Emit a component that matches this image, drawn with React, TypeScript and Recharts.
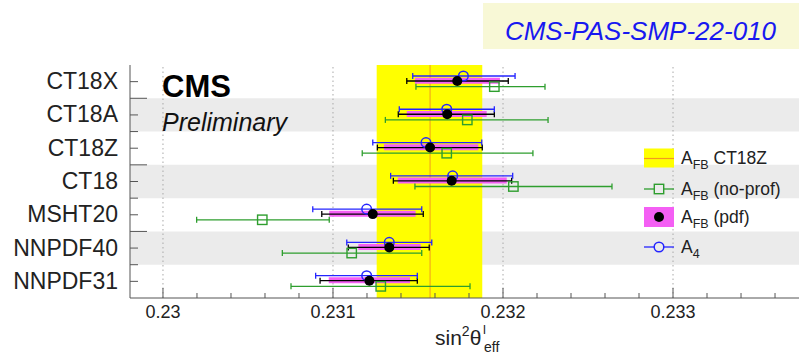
import React from "react";
import {
  ErrorBar,
  Legend,
  ReferenceArea,
  ReferenceLine,
  Scatter,
  ScatterChart,
  XAxis,
  YAxis,
} from "recharts";

const FONT = "'Liberation Sans', Arial, Helvetica, sans-serif";
const FRAME = "#555";
const GREEN = "#2e9e2e";
const BLUE = "#2424ff";
const PINK = "#f45ff4";
const YELLOW = "#ffff00";
const ORANGE = "#f29a1f";

const pdfSets = ["CT18X", "CT18A", "CT18Z", "CT18", "MSHT20", "NNPDF40", "NNPDF31"];

// A4 (open blue circles)
const a4Value = [0.231767, 0.231669, 0.231547, 0.231704, 0.231198, 0.231331, 0.231198];
const a4Low = [0.231469, 0.23139, 0.231234, 0.231339, 0.230881, 0.231081, 0.230898];
const a4High = [0.232071, 0.231949, 0.231875, 0.232057, 0.231522, 0.231581, 0.231496];

// AFB (pdf): black dots, total error bar and magenta pdf band
const afbValue = [0.231731, 0.231672, 0.231571, 0.231698, 0.231234, 0.231331, 0.231214];
const afbLow = [0.231434, 0.231384, 0.231261, 0.231355, 0.230934, 0.23109, 0.230924];
const afbHigh = [0.232031, 0.231949, 0.231878, 0.232051, 0.231531, 0.231566, 0.231496];
const afbPdfLow = [0.231482, 0.231434, 0.2313, 0.231381, 0.230978, 0.231149, 0.230975];
const afbPdfHigh = [0.231982, 0.231904, 0.231855, 0.232022, 0.231486, 0.231516, 0.231453];

// AFB (no-prof): open green squares
const noProfValue = [0.231949, 0.23179, 0.231669, 0.232061, 0.230584, 0.23111, 0.231281];
const noProfLow = [0.231488, 0.231308, 0.231172, 0.231482, 0.230198, 0.230702, 0.230753];
const noProfHigh = [0.232247, 0.232265, 0.232176, 0.232641, 0.230978, 0.231522, 0.231806];

// AFB CT18Z reference band
const ct18zBand = [0.231257, 0.231878];
const ct18zCentral = 0.231571;

const xDomain = [0.229806, 0.233794];
const xTicks = [
  0.23, 0.2302, 0.2304, 0.2306, 0.2308, 0.231, 0.2312, 0.2314, 0.2316, 0.2318,
  0.232, 0.2322, 0.2324, 0.2326, 0.2328, 0.233, 0.2332, 0.2334, 0.2336,
];
const xGrid = [0.23, 0.231, 0.232, 0.233];
const yTicks = [0.5, 1, 1.5, 2, 2.5, 3, 3.5, 4, 4.5, 5, 5.5, 6, 6.5];
const yMajor = [1, 3, 5];
const shadedRows = [1, 3, 5];

const toPoints = (val: number[], lo: number[], hi: number[], shift: number) =>
  val.map((v, i) => ({ x: v, y: i + 0.5 + shift, err: [v - lo[i], hi[i] - v] }));

const a4Data = toPoints(a4Value, a4Low, a4High, -0.17);
const afbData = toPoints(afbValue, afbLow, afbHigh, -0.02);
const pdfBandData = toPoints(afbValue, afbPdfLow, afbPdfHigh, -0.03);
const noProfData = toPoints(noProfValue, noProfLow, noProfHigh, 0.15);

const isMajorX = (v: number) => Math.abs(v * 1000 - Math.round(v * 1000)) < 1e-6;
const fmtX = (v: number) => String(Number(v.toFixed(3)));

function BottomTick(props: any) {
  const { x, y, payload } = props;
  const major = isMajorX(payload.value);
  return (
    <g>
      <line x1={x} x2={x} y1={y} y2={y - (major ? 10 : 5)} stroke={FRAME} />
      {major && (
        <text x={x} y={y + 20} textAnchor="middle" fontSize={18} fill="#222" fontFamily={FONT}>
          {fmtX(payload.value)}
        </text>
      )}
    </g>
  );
}

function TopTick(props: any) {
  const { x, y, payload } = props;
  const major = isMajorX(payload.value);
  return <line x1={x} x2={x} y1={y} y2={y + (major ? 10 : 5)} stroke={FRAME} />;
}

function LeftTick(props: any) {
  const { x, y, payload } = props;
  const v = payload.value;
  const center = Math.abs(v - Math.floor(v) - 0.5) < 1e-6;
  const len = yMajor.includes(v) ? 17 : 8;
  return (
    <g>
      <line x1={x} x2={x + len} y1={y} y2={y} stroke={FRAME} />
      {center && (
        <text x={x - 12} y={y + 7.5} textAnchor="end" fontSize={23} fill="#222" fontFamily={FONT}>
          {pdfSets[Math.floor(v)]}
        </text>
      )}
    </g>
  );
}

function RightTick(props: any) {
  const { x, y, payload } = props;
  const len = yMajor.includes(payload.value) ? 17 : 8;
  return <line x1={x} x2={x - len} y1={y} y2={y} stroke={FRAME} />;
}

const OpenCircle = (p: any) => (
  <circle cx={p.cx} cy={p.cy} r={4.8} fill="none" stroke={BLUE} strokeWidth={1.5} />
);
const FullDot = (p: any) => <circle cx={p.cx} cy={p.cy} r={5} fill="#000" />;
const OpenSquare = (p: any) => (
  <rect x={p.cx - 4.7} y={p.cy - 4.7} width={9.4} height={9.4} fill="none" stroke={GREEN} strokeWidth={1.4} />
);
const NoMarker = () => <g />;

function Afb({ y, rest }: { y: number; rest: string }) {
  return (
    <text x={45} y={y + 6} fontSize={17.5} fill="#222" fontFamily={FONT}>
      A
      <tspan dy={4.5} fontSize={12.5}>
        {rest === "4" ? "4" : "FB"}
      </tspan>
      {rest !== "4" && <tspan dy={-4.5}>{" " + rest}</tspan>}
    </text>
  );
}

function LegendBox() {
  return (
    <svg width={170} height={122} style={{ overflow: "visible" }}>
      <rect x={8} y={8.5} width={30} height={19} fill={YELLOW} />
      <line x1={8} x2={38} y1={18.5} y2={18.5} stroke={ORANGE} strokeWidth={1.2} />
      <Afb y={18} rest="CT18Z" />

      <line x1={8} x2={18.3} y1={49} y2={49} stroke={GREEN} strokeWidth={1.3} />
      <line x1={27.7} x2={38} y1={49} y2={49} stroke={GREEN} strokeWidth={1.3} />
      <rect x={18.3} y={44.3} width={9.4} height={9.4} fill="none" stroke={GREEN} strokeWidth={1.4} />
      <Afb y={49} rest="(no-prof)" />

      <rect x={8} y={67} width={30} height={20} fill={PINK} />
      <circle cx={23} cy={77} r={5} fill="#000" />
      <Afb y={77} rest="(pdf)" />

      <line x1={8} x2={18.2} y1={107} y2={107} stroke={BLUE} strokeWidth={1.3} />
      <line x1={27.8} x2={38} y1={107} y2={107} stroke={BLUE} strokeWidth={1.3} />
      <circle cx={23} cy={107} r={4.8} fill="none" stroke={BLUE} strokeWidth={1.5} />
      <Afb y={107} rest="4" />
    </svg>
  );
}

export default function App() {
  return (
    <div
      style={{
        position: "absolute",
        left: 0,
        top: 0,
        width: 799,
        height: 354,
        overflow: "hidden",
        background: "#fff",
        fontFamily: FONT,
      }}
    >
      <ScatterChart width={810} height={354} margin={{ top: 65, right: 2, bottom: 0, left: 0 }}>
        {shadedRows.map((r) => (
          <ReferenceArea key={r} y1={r} y2={r + 1} fill="#ebebeb" fillOpacity={1} stroke="none" />
        ))}
        {xGrid.map((v) => (
          <ReferenceLine key={v} x={v} stroke="#a8a8a8" strokeDasharray="1.5 3" />
        ))}
        <ReferenceArea x1={ct18zBand[0]} x2={ct18zBand[1]} fill={YELLOW} fillOpacity={1} stroke="none" />
        <ReferenceLine x={ct18zCentral} stroke={ORANGE} strokeWidth={1} />

        <XAxis
          dataKey="x"
          type="number"
          domain={xDomain}
          allowDataOverflow
          ticks={xTicks}
          interval={0}
          tick={(p: any) => <BottomTick {...p} />}
          tickLine={false}
          tickSize={0}
          tickMargin={0}
          height={56}
          axisLine={{ stroke: FRAME }}
        />
        <XAxis
          xAxisId="top"
          orientation="top"
          type="number"
          domain={xDomain}
          allowDataOverflow
          ticks={xTicks}
          interval={0}
          tick={(p: any) => <TopTick {...p} />}
          tickLine={false}
          tickSize={0}
          tickMargin={0}
          height={0}
          axisLine={{ stroke: FRAME }}
        />
        <YAxis
          dataKey="y"
          type="number"
          domain={[0, 7]}
          reversed
          allowDataOverflow
          ticks={yTicks}
          interval={0}
          tick={(p: any) => <LeftTick {...p} />}
          tickLine={false}
          tickSize={0}
          tickMargin={0}
          width={130}
          axisLine={{ stroke: FRAME }}
        />
        <YAxis
          yAxisId="right"
          orientation="right"
          type="number"
          domain={[0, 7]}
          reversed
          allowDataOverflow
          ticks={yTicks}
          interval={0}
          tick={(p: any) => <RightTick {...p} />}
          tickLine={false}
          tickSize={0}
          tickMargin={0}
          width={0}
          axisLine={{ stroke: FRAME }}
        />

        <Scatter name="AFB (pdf) band" data={pdfBandData} shape={NoMarker} isAnimationActive={false}>
          <ErrorBar dataKey="err" direction="x" width={0} stroke={PINK} strokeWidth={6} isAnimationActive={false} />
        </Scatter>
        <Scatter name="AFB total" data={afbData} shape={NoMarker} isAnimationActive={false}>
          <ErrorBar dataKey="err" direction="x" width={3} stroke="#000" strokeWidth={1.3} isAnimationActive={false} />
        </Scatter>
        <Scatter name="AFB (no-prof)" data={noProfData} shape={OpenSquare} isAnimationActive={false}>
          <ErrorBar dataKey="err" direction="x" width={3} stroke={GREEN} strokeWidth={1.3} isAnimationActive={false} />
        </Scatter>
        <Scatter name="A4" data={a4Data} shape={OpenCircle} isAnimationActive={false}>
          <ErrorBar dataKey="err" direction="x" width={3} stroke={BLUE} strokeWidth={1.3} isAnimationActive={false} />
        </Scatter>
        <Scatter name="AFB (pdf)" data={afbData} shape={FullDot} isAnimationActive={false} />

        <Legend
          layout="horizontal"
          verticalAlign="middle"
          align="center"
          content={() => <LegendBox />}
          wrapperStyle={{ left: 636, top: 140, width: 170, height: 122 }}
        />
      </ScatterChart>

      <svg
        width={799}
        height={354}
        style={{ position: "absolute", left: 0, top: 0, pointerEvents: "none" }}
        fontFamily={FONT}
      >
        <rect x={483} y={3} width={316} height={46} fill="#f8f8d6" />
        <text x={640.5} y={40} textAnchor="middle" fontSize={26} fontStyle="italic" fill="#1818f0">
          CMS-PAS-SMP-22-010
        </text>
        <text x={162} y={97} fontSize={31} fontWeight="bold" fill="#000">
          CMS
        </text>
        <text x={162} y={131} fontSize={25} fontStyle="italic" fill="#111">
          Preliminary
        </text>
        <text x={435} y={345} fontSize={21} fill="#222">
          sin
          <tspan dy={-9} fontSize={14}>
            2
          </tspan>
          <tspan dy={9}>θ</tspan>
        </text>
        <text x={483} y={334} fontSize={13} fill="#222">
          l
        </text>
        <text x={484} y={352} fontSize={14} fill="#222">
          eff
        </text>
      </svg>
    </div>
  );
}
